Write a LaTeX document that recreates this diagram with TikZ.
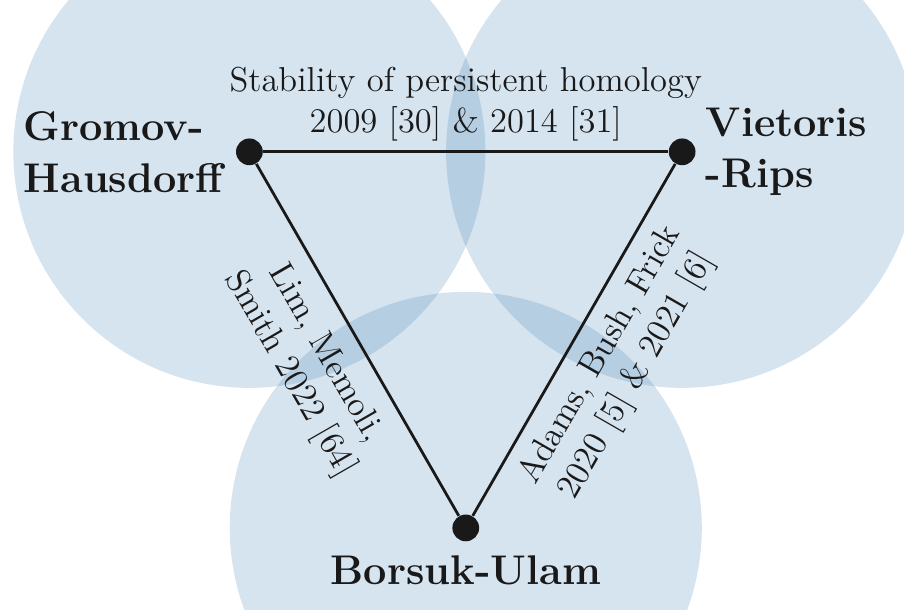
\documentclass[tikz,border=0pt]{standalone}
\usepackage{tikz}
\usetikzlibrary{positioning,backgrounds}
\definecolor{ballblue}{RGB}{70,130,180}

\begin{document}
\begin{tikzpicture}[
    vertex/.style={circle, fill=black!90, inner sep=0pt, minimum size=0.34cm},
    ball/.style={fill=ballblue, fill opacity=0.22},
    thm/.style={font=\fontsize{15}{18.7}\selectfont\bfseries, align=left, text=black!90},
    cite/.style={font=\fontsize{12.5}{15}\selectfont, align=center, text=black!90},
    edge/.style={line width=1pt, black!90}
]
    \useasboundingbox (-5.92,-1.04) rectangle (5.57,6.71);

    % Vertices
    \node[vertex] (gh) at (-2.75,4.78) {};
    \node[vertex] (vr) at (2.75,4.78) {};
    \node[vertex] (bu) at (0,0) {};

    % Balls
    \begin{scope}[on background layer]
        \fill[ball] (gh) circle (3);
        \fill[ball] (vr) circle (3);
        \fill[ball] (bu) circle (3);
    \end{scope}

    % Names
    \node[thm, left=1pt of gh] (ghname) {Gromov-\\Hausdorff};
    \node[thm, right=0pt of vr] (vrname) {Vietoris\\-Rips};
    \node[thm, below=0.05cm of bu] (buname) {Borsuk-Ulam};

    % Edges
    \draw[edge] (gh) -- node[cite, above] {Stability of persistent homology\\2009 [30] \& 2014 [31]} (vr);
    \draw[edge] (gh) -- node[cite, sloped, below=3pt, pos=0.49] {Lim, Memoli,\\Smith 2022 [64]} (bu);
    \draw[edge] (bu) -- node[cite, sloped, below=1.5pt] {Adams, Bush, Frick\\2020 [5] \& 2021 [6]} (vr);
\end{tikzpicture}
\end{document}
